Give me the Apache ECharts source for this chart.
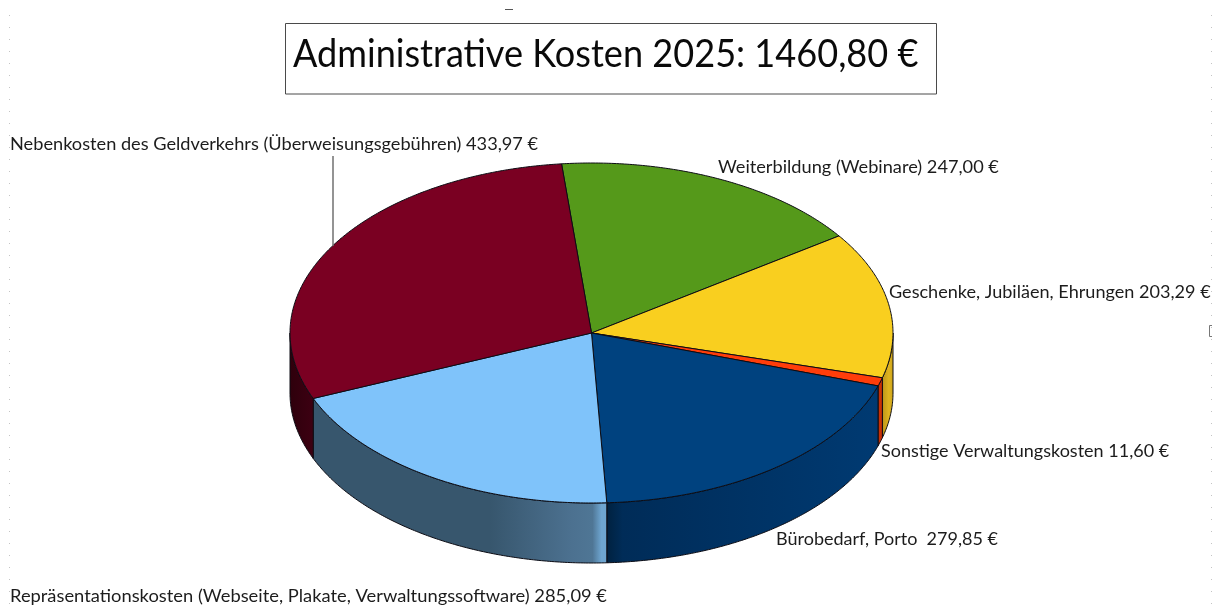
<!DOCTYPE html>
<html>
<head>
<meta charset="utf-8">
<style>html,body{margin:0;padding:0;background:#fff}#c{width:1222px;height:610px}</style>
<script src="https://cdn.jsdelivr.net/npm/echarts@6/dist/echarts.min.js"></script>
</head>
<body>
<div id="c"></div>
<script>
const titleText = 'Administrative Kosten 2025: 1460,80 €';
const categories = ['Weiterbildung (Webinare)', 'Geschenke, Jubiläen, Ehrungen', 'Sonstige Verwaltungskosten', 'Bürobedarf, Porto ', 'Repräsentationskosten (Webseite, Plakate, Verwaltungssoftware)', 'Nebenkosten des Geldverkehrs (Überweisungsgebühren)'];
const values = [247.00, 203.29, 11.60, 279.85, 285.09, 433.97];
const topColors = ['#55991a', '#f9cf1f', '#ff3d0a', '#00427f', '#7fc3fa', '#7a0022'];
const wallStops = [
  [[0, '#3f7013'], [1, '#3f7013']],
  [[0, '#b8941a'], [0.6, '#e0b41f'], [1, '#c9a21c']],
  [[0, '#b52d05'], [1, '#d93408']],
  [[0, '#00213f'], [0.06, '#002c58'], [1, '#003a72']],
  [[0, '#37566d'], [0.6, '#37566d'], [0.88, '#4c7190'], [0.95, '#4f7695'], [0.98, '#6ea5d0'], [1, '#6ea5d0']],
  [[0, '#2e000c'], [1, '#3d0012']]
];
const startAngle = -5.7;
const depth = 60 / 170;
const labelPos = [[718, 167], [889, 292], [881, 451], [776, 539], [10, 596], [10, 144]];
const labelStretch = [1, 0.994, 0.99, 0.99, 1.008, 1];
const total = values.reduce((a, b) => a + b, 0);
const fmt = v => v.toFixed(2).replace('.', ',') + ' €';
const rad = d => d * Math.PI / 180;

function arc(from, to, dy) {
  const pts = [], n = Math.max(2, Math.ceil(Math.abs(to - from) * 2));
  for (let i = 0; i <= n; i++) {
    const t = rad(from + (to - from) * i / n);
    pts.push([Math.sin(t), Math.cos(t) - dy]);
  }
  return pts;
}

function renderItem(params, api) {
  const i = params.dataIndex;
  let before = 0;
  for (let k = 0; k < i; k++) before += values[k];
  const a0 = startAngle + before / total * 360;
  const a1 = a0 + api.value(2) / total * 360;
  const kids = [];
  const lo = Math.max(a0, 90), hi = Math.min(a1, 270);
  const px = p => p.map(q => api.coord(q));
  if (hi > lo) {
    const pts = arc(lo, hi, 0).concat(arc(hi, lo, depth));
    kids.push({
      type: 'polygon',
      shape: { points: px(pts) },
      style: {
        fill: new echarts.graphic.LinearGradient(0, 0, 1, 0, wallStops[i].map(s => ({ offset: s[0], color: s[1] }))),
        stroke: '#0c0c14', lineWidth: 1
      }
    });
  }
  kids.push({
    type: 'polygon',
    shape: { points: px([[0, 0]].concat(arc(a0, a1, 0))) },
    style: { fill: topColors[i], stroke: '#0c0c14', lineWidth: 1, lineJoin: 'round' }
  });
  return { type: 'group', children: kids };
}

const dots = { stroke: '#c4c4c4', lineWidth: 1, lineDash: [1, 11] };
const graphics = [
  { type: 'rect', shape: { x: 285.5, y: 23.5, width: 651, height: 70.5 }, style: { fill: 'none', stroke: '#4a4a4a', lineWidth: 1 } },
  { type: 'text', x: 293, y: 54, z: 6, scaleX: 0.926,
    style: { text: titleText, font: '39px Lato', fill: '#0a0a0a', verticalAlign: 'middle' } },
  { type: 'line', shape: { x1: 333, y1: 156, x2: 333, y2: 246 }, style: { stroke: '#707070', lineWidth: 1.5 }, z: 5 },
  { type: 'line', shape: { x1: 9.5, y1: 15, x2: 9.5, y2: 610 }, style: dots },
  { type: 'line', shape: { x1: 1211.5, y1: 15, x2: 1211.5, y2: 610 }, style: dots },
  { type: 'line', shape: { x1: 505, y1: 9.5, x2: 513, y2: 9.5 }, style: { stroke: '#555', lineWidth: 1 } },
  { type: 'polyline', shape: { points: [[1212, 325.5], [1209.5, 325.5], [1209.5, 336.5], [1212, 336.5]] }, style: { stroke: '#777', lineWidth: 1, fill: 'none' } }
];
categories.forEach((c, i) => graphics.push({
  type: 'text', x: labelPos[i][0], y: labelPos[i][1], z: 6, scaleX: labelStretch[i],
  style: { text: c + ' ' + fmt(values[i]), font: '18.2px Lato', fill: '#1c1c1c', verticalAlign: 'middle' }
}));

const chart = echarts.init(document.getElementById('c'), null, { renderer: 'canvas' });
chart.setOption({
  animation: false,
  backgroundColor: '#ffffff',
  grid: { left: 290, top: 163, width: 603, height: 340 },
  xAxis: { type: 'value', min: -1, max: 1, show: false },
  yAxis: { type: 'value', min: -1, max: 1, show: false },
  series: [{
    type: 'custom',
    renderItem,
    clip: false,
    encode: { x: 0, y: 1 },
    data: values.map(v => [0, 0, v])
  }],
  graphic: graphics
});
</script>
</body>
</html>
